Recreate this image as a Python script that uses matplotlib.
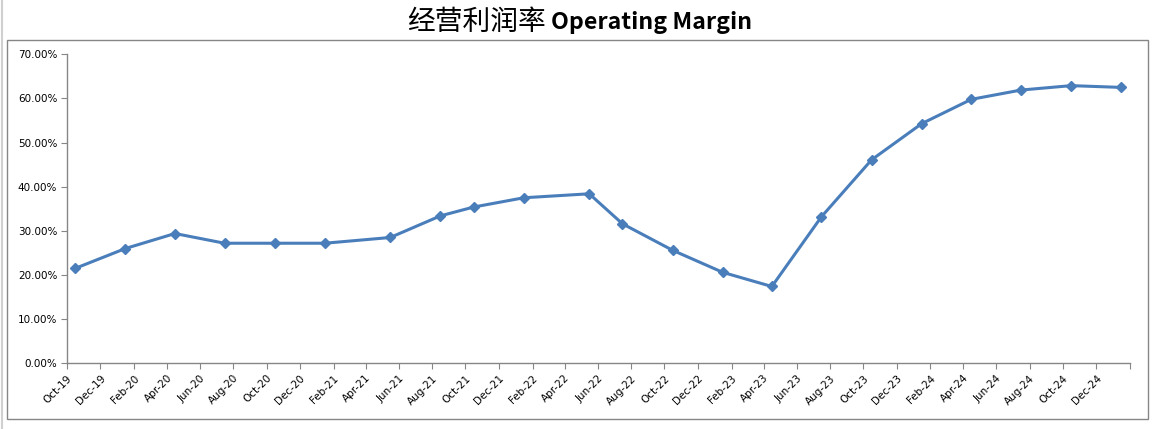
import pandas as pd
import matplotlib
matplotlib.use("Agg")
import matplotlib.pyplot as plt
from matplotlib.ticker import FuncFormatter
from matplotlib.patches import Rectangle
from matplotlib.lines import Line2D

plt.rcParams['font.family'] = ['Noto Sans CJK SC', 'DejaVu Sans']

# quarterly-ish readings, plotted at mid-month
months = ["2019-10", "2020-01", "2020-04", "2020-07", "2020-10", "2021-01",
          "2021-05", "2021-08", "2021-10", "2022-01", "2022-05", "2022-07",
          "2022-10", "2023-01", "2023-04", "2023-07", "2023-10", "2024-01",
          "2024-04", "2024-07", "2024-10", "2025-01"]
margin = [0.215, 0.260, 0.294, 0.272, 0.272, 0.272,
          0.285, 0.334, 0.354, 0.375, 0.384, 0.316,
          0.256, 0.206, 0.174, 0.332, 0.461, 0.543,
          0.598, 0.619, 0.629, 0.625]

x = pd.to_datetime(months) + pd.Timedelta(days=15)
tick_dates = pd.date_range("2019-10-01", "2025-02-01", freq="2MS")
tick_labels = [d.strftime("%b-%y") for d in tick_dates[:-1]] + [""]

fig = plt.figure(figsize=(11.53, 4.29), dpi=100)
ax = fig.add_axes([67 / 1153, 1 - 363.3 / 429, (1130 - 67) / 1153, (363.3 - 54.3) / 429])

ax.plot(x, margin, color="#4A7EBB", lw=2.2, marker="D", ms=5.5,
        mfc="#4A7EBB", mec="#4A7EBB")

ax.set_xlim(tick_dates[0], tick_dates[-1])
ax.set_ylim(0, 0.70)
ax.set_yticks([i / 10 for i in range(8)])
ax.yaxis.set_major_formatter(FuncFormatter(lambda v, p: f"{v * 100:.2f}%"))
ax.set_xticks(tick_dates)
ax.set_xticklabels(tick_labels, rotation=45, ha="right", rotation_mode="anchor",
                   family="DejaVu Sans", fontsize=7.5)
for lbl in ax.get_yticklabels():
    lbl.set_family("DejaVu Sans")
    lbl.set_fontsize(7.5)

for s in ["top", "right"]:
    ax.spines[s].set_visible(False)
for s in ["left", "bottom"]:
    ax.spines[s].set_color("#868686")
    ax.spines[s].set_linewidth(1)
ax.tick_params(axis="both", direction="out", length=4, color="#868686", pad=3)

# chart area border
fig.patches.append(Rectangle((7 / 1153, 1 - 419 / 429), (1148 - 7) / 1153, (419 - 40) / 429,
                             transform=fig.transFigure, fill=False,
                             edgecolor="#868686", lw=1))
fig.lines.append(Line2D([2 / 1153, 2 / 1153], [0, 1], transform=fig.transFigure,
                        color="#d0d0d0", lw=1.5))

fig.text(546 / 1153, 1 - 22 / 429, "经营利润率", ha="right", va="center",
         fontsize=20, fontweight="normal")
fig.text(551 / 1153, 1 - 22 / 429, "Operating Margin", ha="left", va="center",
         fontsize=16.7, fontweight="bold")

fig.savefig("out.png", dpi=100)
